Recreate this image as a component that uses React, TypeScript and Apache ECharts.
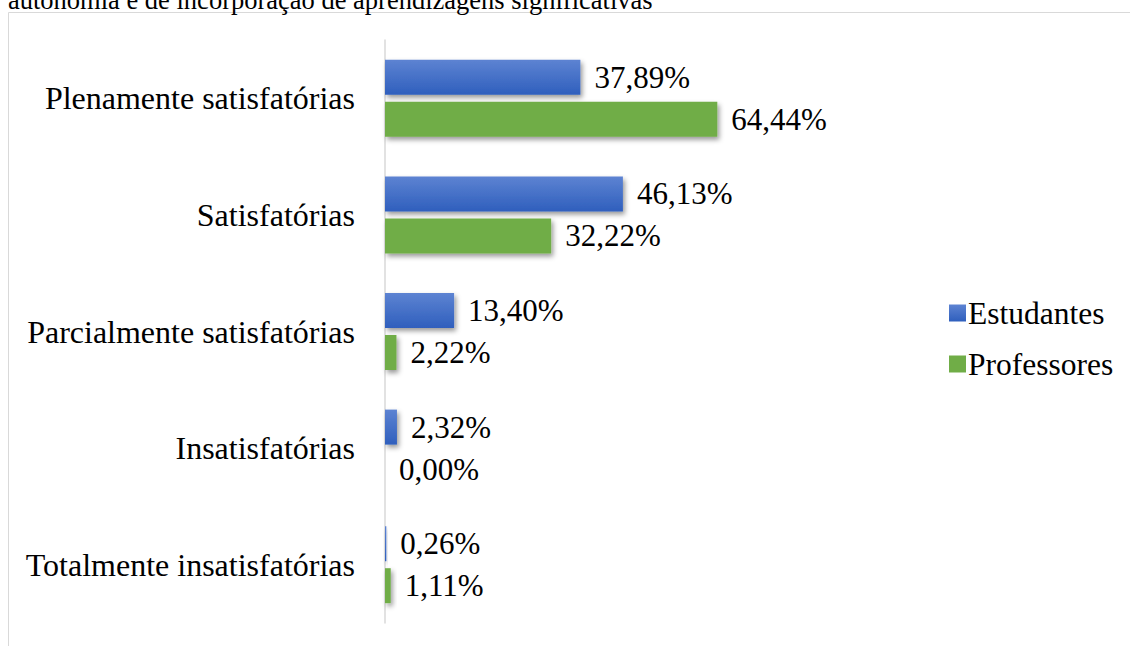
import React, { useEffect, useRef } from "react";
import * as echarts from "echarts";

const categories = [
  "Plenamente satisfatórias",
  "Satisfatórias",
  "Parcialmente satisfatórias",
  "Insatisfatórias",
  "Totalmente insatisfatórias",
];
const estudantes = [37.89, 46.13, 13.4, 2.32, 0.26];
const professores = [64.44, 32.22, 2.22, 0.0, 1.11];
const seriesNames = ["Estudantes", "Professores"];
const headerText = "autonomia e de incorporação de aprendizagens significativas";

const FONT = "'Liberation Serif', 'Times New Roman', serif";

const fmt = (v: number) => v.toFixed(2).replace(".", ",") + "%";

export default function App() {
  const ref = useRef<HTMLDivElement>(null);
  useEffect(() => {
    if (!ref.current) return;
    const chart = echarts.init(ref.current, undefined, { renderer: "svg" });
    const labelCfg = {
      show: true,
      position: "right" as const,
      distance: 14,
      fontFamily: FONT,
      fontSize: 31,
      color: "#000",
      formatter: (p: any) => fmt(p.value),
    };
    chart.setOption({
      animation: false,
      backgroundColor: "#fff",
      graphic: [
        {
          type: "rect",
          shape: { x: 8.5, y: 12.5, width: 1300, height: 800 },
          style: { fill: "none", stroke: "#d9d9d9", lineWidth: 1 },
          z: 0,
        },
        {
          type: "text",
          x: 8,
          y: 0,
          style: {
            text: headerText,
            fontFamily: FONT,
            fontSize: 26.5,
            fill: "#000",
            verticalAlign: "middle",
            align: "left",
          },
        },
      ],
      legend: {
        data: seriesNames,
        orient: "vertical",
        left: 944,
        top: 291,
        icon: "rect",
        itemWidth: 17,
        itemHeight: 17,
        itemGap: 17,
        textStyle: {
          fontFamily: FONT,
          fontSize: 31.5,
          color: "#000",
          lineHeight: 34,
          padding: [0, 0, 0, -3],
        },
      },
      grid: { left: 385, top: 40, width: 70 * 5.157, height: 583, containLabel: false },
      xAxis: {
        type: "value",
        min: 0,
        max: 70,
        show: false,
      },
      yAxis: {
        type: "category",
        data: categories,
        inverse: true,
        axisLine: { show: true, lineStyle: { color: "#d9d9d9", width: 1.5 } },
        axisTick: { show: false },
        axisLabel: {
          margin: 30,
          fontFamily: FONT,
          fontSize: 32,
          color: "#000",
        },
      },
      series: [
        {
          name: seriesNames[0],
          type: "bar",
          data: estudantes,
          barWidth: 35,
          barGap: "20%",
          itemStyle: {
            color: new echarts.graphic.LinearGradient(0, 0, 0, 1, [
              { offset: 0, color: "#5d83d2" },
              { offset: 1, color: "#2f5fbd" },
            ]),
            shadowColor: "rgba(0,0,0,0.4)",
            shadowBlur: 5,
            shadowOffsetX: 2,
            shadowOffsetY: 3,
          },
          label: labelCfg,
        },
        {
          name: seriesNames[1],
          type: "bar",
          data: professores,
          barWidth: 35,
          barGap: "20%",
          itemStyle: {
            color: "#70ad47",
            shadowColor: "rgba(0,0,0,0.4)",
            shadowBlur: 5,
            shadowOffsetX: 2,
            shadowOffsetY: 3,
          },
          label: labelCfg,
        },
      ],
    });
    return () => chart.dispose();
  }, []);
  return (
    <div
      ref={ref}
      style={{ position: "absolute", left: 0, top: 0, width: 1130, height: 646 }}
    />
  );
}
